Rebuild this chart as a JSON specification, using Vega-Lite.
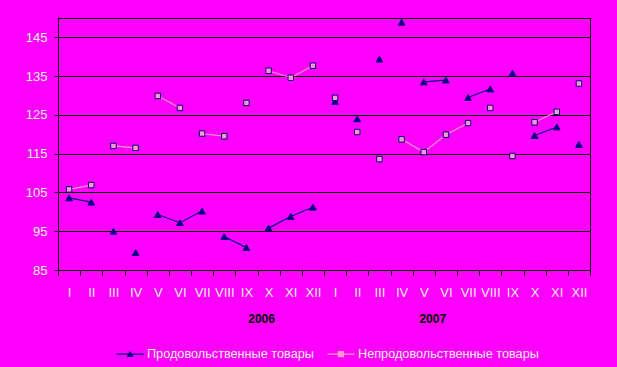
{
  "$schema": "https://vega.github.io/schema/vega-lite/v6.json",
  "width": 532,
  "height": 252,
  "autosize": {"type": "none"},
  "padding": {"left": 58, "top": 18, "right": 27, "bottom": 97},
  "background": "#FF00FF",
  "config": {
    "view": {"stroke": "#000000", "strokeWidth": 1, "fill": "#FF00FF"},
    "font": "Liberation Sans",
    "axis": {
      "labelFont": "Liberation Sans", "labelFontSize": 13, "labelColor": "#EEEEEE",
      "domainColor": "#000000", "tickColor": "#000000", "gridColor": "#000000",
      "gridOpacity": 1, "domainWidth": 1, "tickWidth": 1, "gridWidth": 1, "title": null
    }
  },
  "data": {"values": [
    {"m": "2006 I", "s": "Продовольственные товары", "v": 103.6, "g": 1},
    {"m": "2006 II", "s": "Продовольственные товары", "v": 102.5, "g": 1},
    {"m": "2006 III", "s": "Продовольственные товары", "v": 95.0, "g": 2},
    {"m": "2006 IV", "s": "Продовольственные товары", "v": 89.5, "g": 3},
    {"m": "2006 V", "s": "Продовольственные товары", "v": 99.3, "g": 4},
    {"m": "2006 VI", "s": "Продовольственные товары", "v": 97.2, "g": 4},
    {"m": "2006 VII", "s": "Продовольственные товары", "v": 100.2, "g": 4},
    {"m": "2006 VIII", "s": "Продовольственные товары", "v": 93.6, "g": 5},
    {"m": "2006 IX", "s": "Продовольственные товары", "v": 90.8, "g": 5},
    {"m": "2006 X", "s": "Продовольственные товары", "v": 95.8, "g": 6},
    {"m": "2006 XI", "s": "Продовольственные товары", "v": 98.8, "g": 6},
    {"m": "2006 XII", "s": "Продовольственные товары", "v": 101.2, "g": 6},
    {"m": "2007 I", "s": "Продовольственные товары", "v": 128.5, "g": 7},
    {"m": "2007 II", "s": "Продовольственные товары", "v": 124.0, "g": 8},
    {"m": "2007 III", "s": "Продовольственные товары", "v": 139.4, "g": 9},
    {"m": "2007 IV", "s": "Продовольственные товары", "v": 148.9, "g": 10},
    {"m": "2007 V", "s": "Продовольственные товары", "v": 133.5, "g": 11},
    {"m": "2007 VI", "s": "Продовольственные товары", "v": 134.0, "g": 11},
    {"m": "2007 VII", "s": "Продовольственные товары", "v": 129.5, "g": 12},
    {"m": "2007 VIII", "s": "Продовольственные товары", "v": 131.7, "g": 12},
    {"m": "2007 IX", "s": "Продовольственные товары", "v": 135.8, "g": 13},
    {"m": "2007 X", "s": "Продовольственные товары", "v": 119.7, "g": 14},
    {"m": "2007 XI", "s": "Продовольственные товары", "v": 121.9, "g": 14},
    {"m": "2007 XII", "s": "Продовольственные товары", "v": 117.4, "g": 15},
    {"m": "2006 I", "s": "Непродовольственные товары", "v": 105.8, "g": 1},
    {"m": "2006 II", "s": "Непродовольственные товары", "v": 106.9, "g": 1},
    {"m": "2006 III", "s": "Непродовольственные товары", "v": 117.0, "g": 2},
    {"m": "2006 IV", "s": "Непродовольственные товары", "v": 116.5, "g": 2},
    {"m": "2006 V", "s": "Непродовольственные товары", "v": 129.9, "g": 3},
    {"m": "2006 VI", "s": "Непродовольственные товары", "v": 126.8, "g": 3},
    {"m": "2006 VII", "s": "Непродовольственные товары", "v": 120.2, "g": 4},
    {"m": "2006 VIII", "s": "Непродовольственные товары", "v": 119.5, "g": 4},
    {"m": "2006 IX", "s": "Непродовольственные товары", "v": 128.1, "g": 5},
    {"m": "2006 X", "s": "Непродовольственные товары", "v": 136.4, "g": 6},
    {"m": "2006 XI", "s": "Непродовольственные товары", "v": 134.6, "g": 6},
    {"m": "2006 XII", "s": "Непродовольственные товары", "v": 137.7, "g": 6},
    {"m": "2007 I", "s": "Непродовольственные товары", "v": 129.4, "g": 7},
    {"m": "2007 II", "s": "Непродовольственные товары", "v": 120.6, "g": 8},
    {"m": "2007 III", "s": "Непродовольственные товары", "v": 113.6, "g": 9},
    {"m": "2007 IV", "s": "Непродовольственные товары", "v": 118.7, "g": 10},
    {"m": "2007 V", "s": "Непродовольственные товары", "v": 115.4, "g": 10},
    {"m": "2007 VI", "s": "Непродовольственные товары", "v": 119.9, "g": 10},
    {"m": "2007 VII", "s": "Непродовольственные товары", "v": 122.9, "g": 10},
    {"m": "2007 VIII", "s": "Непродовольственные товары", "v": 126.8, "g": 11},
    {"m": "2007 IX", "s": "Непродовольственные товары", "v": 114.4, "g": 12},
    {"m": "2007 X", "s": "Непродовольственные товары", "v": 123.1, "g": 13},
    {"m": "2007 XI", "s": "Непродовольственные товары", "v": 125.8, "g": 13},
    {"m": "2007 XII", "s": "Непродовольственные товары", "v": 133.1, "g": 14}
  ]},
  "layer": [
    {
      "mark": {"type": "line", "strokeWidth": 1.2},
      "encoding": {
        "x": {
          "field": "m", "type": "ordinal",
          "scale": {
            "type": "band", "paddingInner": 0, "paddingOuter": 0,
            "domain": ["2006 I","2006 II","2006 III","2006 IV","2006 V","2006 VI","2006 VII","2006 VIII","2006 IX","2006 X","2006 XI","2006 XII","2007 I","2007 II","2007 III","2007 IV","2007 V","2007 VI","2007 VII","2007 VIII","2007 IX","2007 X","2007 XI","2007 XII"]
          },
          "axis": {
            "tickBand": "extent", "labelExpr": "split(datum.value, ' ')[1]",
            "labelAngle": 0, "tickSize": 5, "labelPadding": 11, "grid": false,
            "labelOverlap": false, "labelBaseline": "top"
          }
        },
        "y": {
          "field": "v", "type": "quantitative",
          "scale": {"domain": [85, 150], "nice": false, "zero": false},
          "axis": {"values": [85, 95, 105, 115, 125, 135, 145], "grid": true, "tickSize": 4, "labelPadding": 7}
        },
        "color": {
          "field": "s", "type": "nominal",
          "scale": {"domain": ["Продовольственные товары", "Непродовольственные товары"], "range": ["#000080", "#FF99CC"]},
          "legend": {
            "orient": "none", "legendX": 63, "legendY": 327, "direction": "horizontal",
            "title": null, "labelFont": "Liberation Sans", "labelFontSize": 12.7, "labelColor": "#EEEEEE",
            "labelLimit": 400, "symbolSize": 324, "labelOffset": 8, "columnPadding": 13,
            "symbolType": "M-1.5,-0.06L1.5,-0.06L1.5,0.06L-1.5,0.06ZM-0.4,0.3L0,-0.35L0.4,0.3Z",
            "symbolStrokeWidth": 0,
            "encode": {
              "symbols": {
                "update": {
                  "shape": {"signal": "datum.value == 'Продовольственные товары' ? 'M-1.5,-0.06L1.5,-0.06L1.5,0.06L-1.5,0.06ZM-0.4,0.3L0,-0.35L0.4,0.3Z' : 'M-1.5,-0.06L1.5,-0.06L1.5,0.06L-1.5,0.06ZM-0.35,-0.35L0.35,-0.35L0.35,0.35L-0.35,0.35Z'"},
                  "fill": {"signal": "datum.value == 'Продовольственные товары' ? '#000080' : '#FF99CC'"},
                  "opacity": {"value": 1},
                  "fillOpacity": {"value": 1}
                }
              }
            }
          }
        },
        "detail": {"field": "g"}
      }
    },
    {
      "transform": [{"filter": "datum.s == 'Продовольственные товары'"}],
      "mark": {"type": "point", "shape": "triangle-up", "filled": true, "fill": "#000080", "stroke": "#000080", "strokeWidth": 1, "size": 45, "opacity": 1},
      "encoding": {
        "x": {"field": "m", "type": "ordinal"},
        "y": {"field": "v", "type": "quantitative"}
      }
    },
    {
      "transform": [{"filter": "datum.s == 'Непродовольственные товары'"}],
      "mark": {"type": "point", "shape": "square", "filled": true, "fill": "#FF99CC", "stroke": "#000080", "strokeWidth": 1, "size": 30, "opacity": 1},
      "encoding": {
        "x": {"field": "m", "type": "ordinal"},
        "y": {"field": "v", "type": "quantitative"}
      }
    },
    {
      "data": {"values": [{"year": "2006", "m": "2006 X"}]},
      "mark": {"type": "text", "font": "Liberation Sans", "fontWeight": "bold", "fontSize": 12, "fill": "#000000", "baseline": "middle", "align": "center", "dx": -7},
      "encoding": {
        "x": {"field": "m", "type": "ordinal"},
        "y": {"datum": 72.4, "type": "quantitative"},
        "text": {"field": "year", "type": "nominal"}
      }
    },
    {
      "data": {"values": [{"year": "2007", "m": "2007 V"}]},
      "mark": {"type": "text", "font": "Liberation Sans", "fontWeight": "bold", "fontSize": 12, "fill": "#000000", "baseline": "middle", "align": "center", "dx": 9},
      "encoding": {
        "x": {"field": "m", "type": "ordinal"},
        "y": {"datum": 72.4, "type": "quantitative"},
        "text": {"field": "year", "type": "nominal"}
      }
    }
  ]
}
